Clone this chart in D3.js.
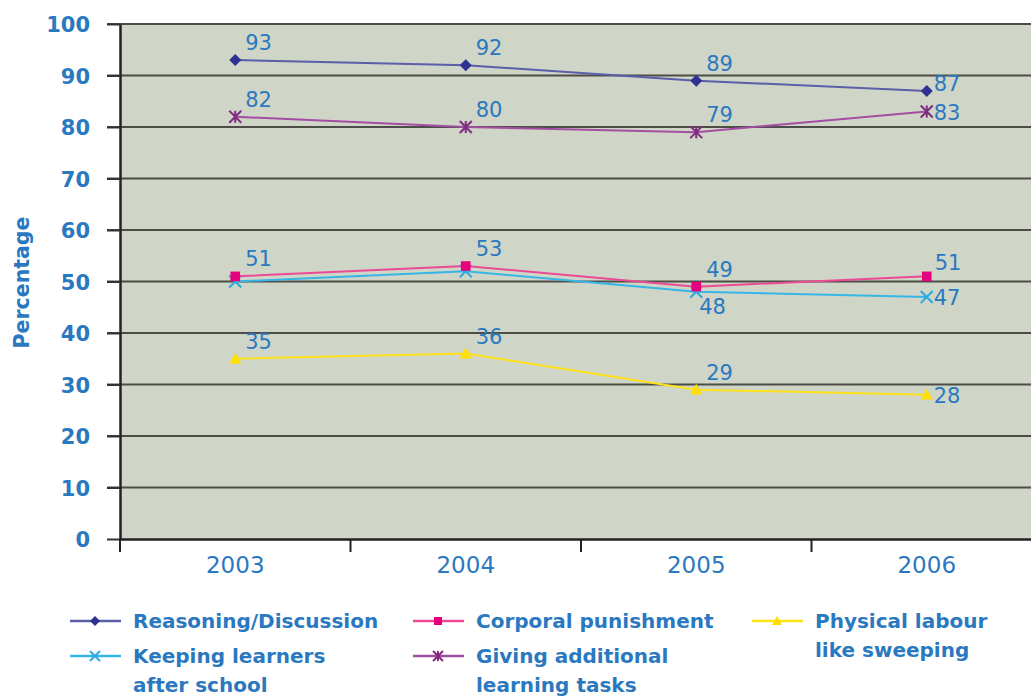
<!DOCTYPE html>
<html lang="en">
<head>
<meta charset="utf-8" />
<title>Percentage by year</title>
<script src="https://d3js.org/d3.v7.min.js"></script>
<style>
    body { margin: 0; background: #fff; }
    svg { display: block; }
    .tick text { fill: #2a79c0; }
</style>
</head>
<body>
<script>
    // data
    var years = ["2003", "2004", "2005", "2006"];
    var reasoning = [93, 92, 89, 87];
    var corporal = [51, 53, 49, 51];
    var keeping = [50, 52, 48, 47];
    var giving = [82, 80, 79, 83];
    var physical = [35, 36, 29, 28];
    var keepingLabelled = [false, false, true, true];
    var yTicks = [0, 10, 20, 30, 40, 50, 60, 70, 80, 90, 100];

    var series = [
        { key: "reasoning", name: ["Reasoning/Discussion"], values: reasoning, line: "#5b5ea8", mark: "#2e3192", shape: "diamond" },
        { key: "corporal", name: ["Corporal punishment"], values: corporal, line: "#ea4b94", mark: "#e6007e", shape: "square" },
        { key: "physical", name: ["Physical labour", "like sweeping"], values: physical, line: "#ffe21a", mark: "#ffe000", shape: "triangle" },
        { key: "keeping", name: ["Keeping learners", "after school"], values: keeping, line: "#36b6e6", mark: "#29abe2", shape: "x" },
        { key: "giving", name: ["Giving additional", "learning tasks"], values: giving, line: "#a24ea3", mark: "#7e2b80", shape: "star" }
    ];

    var W = 1031, H = 696;
    var plotL = 120, plotR = 1042, plotT = 24, plotB = 539;
    var textBlue = "#2a79c0";

    var svg = d3.select("body").append("svg")
        .attr("width", W).attr("height", H);

    var x = d3.scaleBand().domain(years).range([plotL, plotR]);
    var y = d3.scaleLinear().domain([0, 100]).range([plotB, plotT]);
    var cx = function (d) { return x(d) + x.bandwidth() / 2; };

    // plot background
    svg.append("rect")
        .attr("x", plotL).attr("y", plotT)
        .attr("width", plotR - plotL).attr("height", plotB - plotT)
        .attr("fill", "#cfd5c7");

    // gridlines
    svg.append("g").selectAll("line")
        .data(yTicks.filter(function (t) { return t > 0; }))
        .enter().append("line")
        .attr("x1", plotL - 13).attr("x2", plotR)
        .attr("y1", function (d) { return y(d); })
        .attr("y2", function (d) { return y(d); })
        .attr("stroke", "#4d4d47").attr("stroke-width", 2);

    // y axis
    var yAxis = svg.append("g")
        .attr("transform", "translate(" + plotL + ",0)")
        .call(d3.axisLeft(y).tickValues(yTicks).tickSize(13).tickSizeOuter(0).tickPadding(17));
    yAxis.select(".domain").attr("stroke", "#222").attr("stroke-width", 2.5);
    yAxis.selectAll(".tick line").attr("stroke", "#333").attr("stroke-width", 2);
    yAxis.selectAll(".tick text")
        .style("font", "bold 21px 'DejaVu Sans', sans-serif")
        .attr("dy", "0.36em");

    // x axis
    var xAxis = svg.append("g")
        .attr("transform", "translate(0," + plotB + ")")
        .call(d3.axisBottom(x).tickSize(0).tickSizeOuter(0).tickPadding(20));
    xAxis.select(".domain").attr("stroke", "#222").attr("stroke-width", 2.5);
    xAxis.selectAll(".tick text")
        .style("font", "23px 'DejaVu Sans', sans-serif")
        .attr("dy", "0.6em");
    // category separators
    svg.append("g").selectAll("line")
        .data(years)
        .enter().append("line")
        .attr("x1", function (d) { return x(d); })
        .attr("x2", function (d) { return x(d); })
        .attr("y1", plotB).attr("y2", plotB + 13)
        .attr("stroke", "#222").attr("stroke-width", 2);

    // y title
    svg.append("text")
        .attr("transform", "translate(29," + ((plotT + plotB) / 2 + 1) + ")rotate(-90)")
        .attr("text-anchor", "middle")
        .attr("fill", textBlue)
        .style("font", "bold 20.5px 'DejaVu Sans', sans-serif")
        .text("Percentage");

    function marker(g, shape, color, s) {
        if (shape === "diamond") {
            g.append("path").attr("d", "M0," + (-s) + "L" + s + ",0L0," + s + "L" + (-s) + ",0Z").attr("fill", color);
        } else if (shape === "square") {
            g.append("rect").attr("x", -s * 0.8).attr("y", -s * 0.8).attr("width", s * 1.6).attr("height", s * 1.6).attr("fill", color);
        } else if (shape === "triangle") {
            g.append("path").attr("d", "M0," + (-s) + "L" + s + "," + (s * 0.8) + "L" + (-s) + "," + (s * 0.8) + "Z").attr("fill", color);
        } else if (shape === "x") {
            g.append("path").attr("d", "M" + (-s) + "," + (-s) + "L" + s + "," + s + "M" + (-s) + "," + s + "L" + s + "," + (-s))
                .attr("stroke", color).attr("stroke-width", 2).attr("fill", "none");
        } else {
            g.append("path").attr("d", "M" + (-s) + "," + (-s) + "L" + s + "," + s + "M" + (-s) + "," + s + "L" + s + "," + (-s) + "M0," + (-s) + "L0," + s)
                .attr("stroke", color).attr("stroke-width", 2).attr("fill", "none");
        }
    }

    var line = d3.line()
        .x(function (d, i) { return cx(years[i]); })
        .y(function (d) { return y(d); });

    // draw order: back to front
    var order = ["physical", "keeping", "corporal", "giving", "reasoning"];
    order.forEach(function (k) {
        var s = series.find(function (e) { return e.key === k; });
        svg.append("path")
            .datum(s.values)
            .attr("d", line)
            .attr("fill", "none")
            .attr("stroke", s.line)
            .attr("stroke-width", 2);
        s.values.forEach(function (v, i) {
            var g = svg.append("g").attr("transform", "translate(" + cx(years[i]) + "," + y(v) + ")");
            marker(g, s.shape, s.mark, 6);
        });
    });

    // value labels
    function labelPos(k, i) {
        var last = i === years.length - 1;
        if (k === "keeping" && !last) return [3, 22];
        if (k === "corporal" && last) return [8, -6];
        if (k === "reasoning" && last) return [7, 0];
        if (last) return [7, 8];
        return [10, -10];
    }
    series.forEach(function (s) {
        s.values.forEach(function (v, i) {
            if (s.key === "keeping" && !keepingLabelled[i]) return;
            var p = labelPos(s.key, i);
            svg.append("text")
                .attr("x", cx(years[i]) + p[0])
                .attr("y", y(v) + p[1])
                .attr("fill", textBlue)
                .style("font", "21px 'DejaVu Sans', sans-serif")
                .text(v);
        });
    });

    // legend
    var legendPos = {
        reasoning: [70, 621], corporal: [413, 621], physical: [752, 621],
        keeping: [70, 656], giving: [413, 656]
    };
    series.forEach(function (s) {
        var p = legendPos[s.key];
        var g = svg.append("g").attr("transform", "translate(" + p[0] + "," + p[1] + ")");
        g.append("line").attr("x1", 0).attr("x2", 51).attr("y1", 0).attr("y2", 0)
            .attr("stroke", s.line).attr("stroke-width", 2.5);
        var m = g.append("g").attr("transform", "translate(25,0)");
        marker(m, s.shape, s.mark, 5);
        var t = g.append("text")
            .attr("x", 63).attr("y", 7)
            .attr("fill", textBlue)
            .style("font", "bold 20px 'DejaVu Sans', sans-serif");
        s.name.forEach(function (n, j) {
            t.append("tspan").attr("x", 63).attr("dy", j === 0 ? 0 : 29).text(n);
        });
    });
</script>
</body>
</html>
